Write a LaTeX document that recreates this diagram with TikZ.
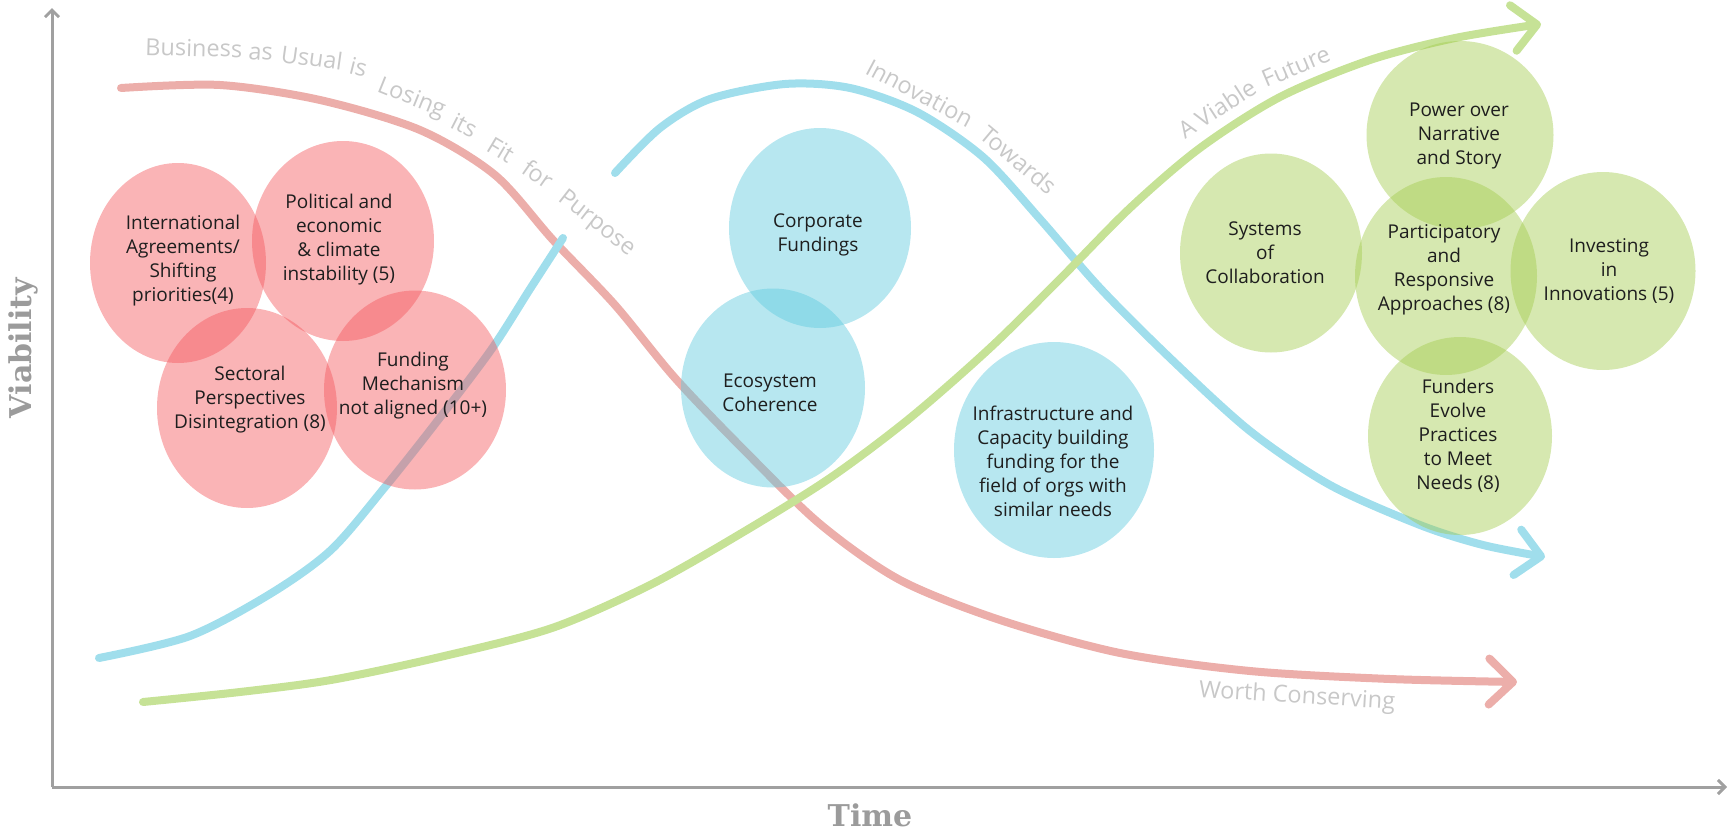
\documentclass[tikz,border=0pt]{standalone}
\usepackage{fontspec}
\setmainfont{Open Sans}
\newfontfamily\slabfont{DejaVu Serif}
\usetikzlibrary{shapes.geometric,arrows.meta}
\definecolor{redline}{RGB}{236,174,170}
\definecolor{blueline}{RGB}{160,222,236}
\definecolor{greenline}{RGB}{198,226,150}
\definecolor{redfill}{RGB}{244,88,93}
\definecolor{bluefill}{RGB}{95,202,222}
\definecolor{greenfill}{RGB}{164,204,79}
\definecolor{axisgray}{RGB}{160,160,160}
\definecolor{axistext}{RGB}{155,155,155}
\definecolor{curvetext}{RGB}{200,200,200}
\definecolor{labeltext}{RGB}{30,30,30}
\begin{document}
\begin{tikzpicture}[x=1pt,y=-1pt,
  axis/.style={draw=axisgray,line width=3pt,-{Straight Barb[length=7pt,width=14pt]}},
  axislbl/.style={font=\slabfont\bfseries\fontsize{30}{36}\selectfont,text=axistext,inner sep=0pt},
  trend/.style={line width=8pt,line cap=round,-{Straight Barb[length=24pt,width=46pt,round]}},
  plain/.style={line width=8pt,line cap=round},
  blob/.style={ellipse,draw=none,fill opacity=0.45,text opacity=1,inner sep=0pt},
  redc/.style={blob,fill=redfill},
  bluec/.style={blob,fill=bluefill},
  greenc/.style={blob,fill=greenfill},
  lbl/.style={font=\fontsize{19}{24}\selectfont,align=center,text=labeltext,inner sep=0pt},
  curvelbl/.style={font=\fontsize{23.5}{28}\selectfont,text=curvetext,inner sep=0pt},
  word/.style={curvelbl,anchor=base west,rotate=#1}
]
\useasboundingbox (0,0) rectangle (1730,838);

% axes
\coordinate (O) at (52,787);
\coordinate (ytop) at (52,8);
\coordinate (xend) at (1727,787);
\draw[axis] (O) -- (ytop);
\draw[axis] (O) -- (xend);
\node[axislbl,rotate=90] (vlab) at (23,348) {Viability};
\node[axislbl] (tlab) at (870,815) {Time};

% trend curves
\draw[trend,draw=redline] plot[smooth] coordinates {
 (121,88) (220,85) (320,100) (420,130) (495,175) (553,240) (615,305) (675,378)
 (745,451) (820,524) (900,580) (1000,620) (1120,653) (1250,671) (1390,679) (1517,682)};
\draw[plain,draw=blueline] plot[smooth] coordinates {
 (99,658) (190,636) (270,594) (331,550) (385,487) (435,424) (491,350) (530,289) (563,238)};
\draw[trend,draw=blueline] plot[smooth] coordinates {
 (615,173) (660,128) (710,99) (785,84) (850,88) (917,112) (983,157) (1040,219)
 (1100,288) (1170,358) (1250,431) (1330,485) (1420,525) (1483,545) (1545,557)};
\draw[trend,draw=greenline] plot[smooth] coordinates {
 (143,702) (240,692) (331,680) (440,657) (552,628) (650,585) (740,534) (830,478)
 (910,418) (990,348) (1060,279) (1130,208) (1200,148) (1280,97) (1370,60) (1455,38) (1541,24)};

% curve texts, word by word
\node[word=-1.5] (w1) at (145,55) {Business};
\node[word=-4] (w2) at (248,59) {as};
\node[word=-8] (w3) at (280,62) {Usual};
\node[word=-14] (w4) at (348,73) {is};
\node[word=-22] (w5) at (376,91) {Losing};
\node[word=-27] (w6) at (449,127) {its};
\node[word=-31] (w7) at (485,150) {Fit};
\node[word=-35] (w8) at (520,172) {for};
\node[word=-38] (w9) at (557,200) {Purpose};
\node[word=-28] (i1) at (864,73) {Innovation};
\node[word=-40] (i2) at (978,137) {Towards};
\node[word=33] (v1) at (1185,140) {A Viable};
\node[word=23] (v2) at (1266,88) {Future};
\node[curvelbl,rotate=-3.5] (worth) at (1297,697) {Worth Conserving};

% red circles
\node[redc,minimum width=176pt,minimum height=200pt] (intl) at (178,263) {};
\node[redc,minimum width=182pt,minimum height=200pt] (pol) at (343,241) {};
\node[redc,minimum width=180pt,minimum height=200pt] (sect) at (247,408) {};
\node[redc,minimum width=182pt,minimum height=199pt] (fund) at (415,390) {};
\node[lbl] (intlT) at (183,261) {International\\Agreements/\\Shifting\\priorities(4)};
\node[lbl] (polT) at (339,240) {Political and\\economic\\\& climate\\instability (5)};
\node[lbl] (sectT) at (250,400) {Sectoral\\Perspectives\\Disintegration (8)};
\node[lbl] (fundT) at (413,386) {Funding\\Mechanism\\not aligned (10+)};

% blue circles
\node[bluec,minimum width=182pt,minimum height=200pt] (corp) at (820,228) {};
\node[bluec,minimum width=184pt,minimum height=199pt] (eco) at (773,388) {};
\node[bluec,minimum width=200pt,minimum height=216pt] (infra) at (1054,450) {};
\node[lbl] (corpT) at (818,235) {Corporate\\Fundings};
\node[lbl] (ecoT) at (770,393) {Ecosystem\\Coherence};
\node[lbl] (infraT) at (1053,461) {Infrastructure and\\Capacity building\\funding for the\\field of orgs with\\similar needs};

% green circles
\node[greenc,minimum width=187pt,minimum height=188pt] (power) at (1460,135) {};
\node[greenc,minimum width=182pt,minimum height=199pt] (sys) at (1271,253) {};
\node[greenc,minimum width=182pt,minimum height=198pt] (part) at (1446,276) {};
\node[greenc,minimum width=185pt,minimum height=198pt] (inv) at (1603,271) {};
\node[greenc,minimum width=184pt,minimum height=198pt] (fev) at (1460,436) {};
\node[lbl] (powerT) at (1459,136) {Power over\\Narrative\\and Story};
\node[lbl] (sysT) at (1265,253) {Systems\\of\\Collaboration};
\node[lbl] (partT) at (1444,270) {Participatory\\and\\Responsive\\Approaches (8)};
\node[lbl] (invT) at (1609,271) {Investing\\in\\Innovations (5)};
\node[lbl] (fevT) at (1458,436) {Funders\\Evolve\\Practices\\to Meet\\Needs (8)};
\end{tikzpicture}
\end{document}
